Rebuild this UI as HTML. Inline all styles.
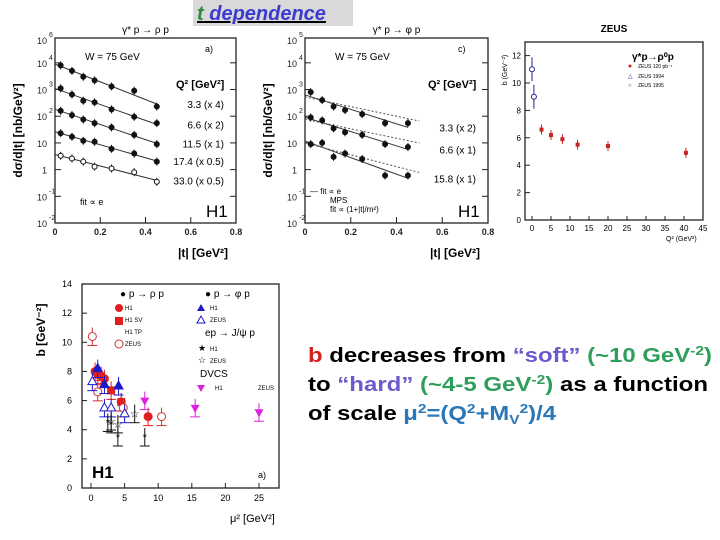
<!DOCTYPE html>
<html><head><meta charset="utf-8">
<style>
body{margin:0;background:#fff;width:720px;height:540px;overflow:hidden;font-family:"Liberation Sans",sans-serif}
svg{position:absolute;left:0;top:0}
</style></head>
<body>
<svg width="720" height="540" viewBox="0 0 720 540" font-family="Liberation Sans, sans-serif">
<g>
<rect x="193" y="0" width="160" height="26" fill="#d9d9d9"/>
<text x="197" y="20" font-size="20" font-weight="bold" font-style="italic" text-decoration="underline"><tspan fill="#2e8b3a">t</tspan><tspan fill="#3b3bd0"> dependence</tspan></text>
</g>
<g id="c1"></g>
<g id="c2"></g>
<g id="c3"></g>
<g id="c4"></g>
<g font-size="20" font-weight="bold">
<text x="308" y="362" textLength="404" lengthAdjust="spacingAndGlyphs"><tspan fill="#d42020">b</tspan> decreases from <tspan fill="#6a5acd">“soft”</tspan> <tspan fill="#2e9e5b">(~10 GeV<tspan dy="-7" font-size="13">-2</tspan><tspan dy="7">)</tspan></tspan></text>
<text x="308" y="391" textLength="400" lengthAdjust="spacingAndGlyphs">to <tspan fill="#6a5acd">“hard”</tspan> <tspan fill="#2e9e5b">(~4-5 GeV<tspan dy="-7" font-size="13">-2</tspan><tspan dy="7">)</tspan></tspan> as a function</text>
<text x="308" y="420" textLength="248" lengthAdjust="spacingAndGlyphs">of scale <tspan fill="#2a78b8">μ<tspan dy="-7" font-size="13">2</tspan><tspan dy="7">=(Q</tspan><tspan dy="-7" font-size="13">2</tspan><tspan dy="7">+M</tspan><tspan dy="4" font-size="13">V</tspan><tspan dy="-11" font-size="13">2</tspan><tspan dy="7">)/4</tspan></tspan></text>
</g>
</svg>
<script>
const NS="http://www.w3.org/2000/svg";
function mk(p,tag,a,txt){const e=document.createElementNS(NS,tag);for(const k in a)e.setAttribute(k,a[k]);if(txt!=null)e.textContent=txt;p.appendChild(e);return e;}
// ---- chart 1 data (rho) ----
const tVals=[0.025,0.075,0.125,0.175,0.25,0.35,0.45];
const rhoLabels=["3.3 (x 4)","6.6 (x 2)","11.5 (x 1)","17.4 (x 0.5)","33.0 (x 0.5)"];
const rhoS1=[8000,5000,3000,2200,1300,900,230];
const rhoS2=[1100,650,380,330,180,95,55];
const rhoS3=[160,110,75,55,38,20,9];
const rhoS4=[23,17,12,11,6,4,2];
const rhoS5=[3.3,2.6,2,1.3,1.1,0.8,0.35];
// ---- chart 2 data (phi) ----
const phiLabels=["3.3 (x 2)","6.6 (x 1)","15.8 (x 1)"];
const phiS1=[800,400,230,170,120,55,55];
const phiS2=[90,70,35,25,20,9,7];
const phiS3=[9,10,3,4,2.5,0.6,0.6];
// ---- chart 3 data (ZEUS) ----
const zQ2=[2.5,5,8,12,20,40.5];
const zB=[6.6,6.2,5.9,5.5,5.4,4.9];
const zPhQ2=[0,0.5];
const zPhB=[11,9];
// ---- chart 4 data (H1 b vs mu2) ----
const rhoH1Mu=[0.6,1,1.5,2,4.5,8.5];const rhoH1B=[8,7.8,7.7,7.5,5.9,4.9];
const rhoSvMu=[3,4.5];const rhoSvB=[6.7,5.9];
const rhoZMu=[0.2,1,4.8,10.5];const rhoZB=[10.4,6.6,5.5,4.9];
const phiH1Mu=[1,2,4.1];const phiH1B=[8.2,7.1,7];
const phiZMu=[0.2,2,3,5];const phiZB=[7.3,5.5,5.5,5.1];
const jpH1Mu=[2.5,3,4,8];const jpH1B=[4.5,4.4,3.5,3.5];
const jpZMu=[3,4,6.5];const jpZB=[4.6,4.4,5.1];
const dvH1Mu=[8,15.5,25];const dvH1B=[6,5.5,5.2];

function frame(g,x0,y0,x1,y1,name){
  const r=mk(g,"rect",{x:x0,y:y0,width:x1-x0,height:y1-y0,fill:"none",stroke:"#222","stroke-width":1.3});
  
}
function logChart(g,x0,y0,x1,y1,eTop,eBot,series,labels,title,sym,topExp){
  frame(g,x0,y0,x1,y1,'plot-frame');
  const xs=v=>x0+v/0.8*(x1-x0);
  const ys=v=>y0+(eTop-Math.log10(v))/(eTop-eBot)*(y1-y0);
  const lab=(y,e)=>{
    const t=mk(g,"text",{x:x0-8,y:y+4,"font-size":9,"text-anchor":"end",fill:"#222"},e==0?"1":"10");
    
    if(e!=0&&e!=1)mk(g,"text",{x:x0-6,y:y-3,"font-size":7,fill:"#222"},""+e);
  };
  for(let e=eBot;e<=Math.floor(eTop);e++){const y=ys(Math.pow(10,e));
    mk(g,"line",{x1:x0,x2:x0+6,y1:y,y2:y,stroke:"#222"});mk(g,"line",{x1:x1,x2:x1-6,y1:y,y2:y,stroke:"#222"});
    lab(y,e);
  }
  lab(y0+2,topExp);
  [0,0.2,0.4,0.6,0.8].forEach(v=>{const x=xs(v);mk(g,"line",{x1:x,x2:x,y1:y1,y2:y1-6,stroke:"#222"});
    const t=mk(g,"text",{x:x,y:y1+12,"font-size":9,"font-weight":"bold","text-anchor":"middle",fill:"#222"},v==0?"0":v.toFixed(1));
    });
  mk(g,"text",{x:(x0+x1)/2,y:y0-5,"font-size":10,"text-anchor":"middle"},title);
  mk(g,"text",{x:x0+30,y:y0+22,"font-size":10},"W = 75 GeV");
  mk(g,"text",{x:x1-60,y:y0+50,"font-size":11,"font-weight":"bold"},"Q² [GeV²]");
  mk(g,"text",{x:x1-30,y:y1-6,"font-size":17},"H1");
  const yl=mk(g,"text",{transform:`translate(${x0-33},${(y0+y1)/2}) rotate(-90)`,"font-size":12,"font-weight":"bold","text-anchor":"middle"},"dσ/d|t| [nb/GeV²]");
  
  const xl=mk(g,"text",{x:x1-58,y:y1+34,"font-size":12,"font-weight":"bold"},"|t| [GeV²]");
  
  series.forEach((s,i)=>{
    const n=s.length;let sx=0,sy=0,sxx=0,sxy=0;
    tVals.forEach((t,k)=>{const l=Math.log10(s[k]);sx+=t;sy+=l;sxx+=t*t;sxy+=t*l;});
    const b=(n*sxy-sx*sy)/(n*sxx-sx*sx),a=(sy-b*sx)/n;
    const ln=mk(g,"line",{x1:xs(0.0),y1:ys(Math.pow(10,a)),x2:xs(0.45),y2:ys(Math.pow(10,a+b*0.45)),stroke:"#333","stroke-width":1});
    
    if(sym)mk(g,"line",{x1:xs(0.0),y1:ys(Math.pow(10,a))+2,x2:xs(0.5),y2:ys(Math.pow(10,a+b*0.5))-10,stroke:"#555","stroke-dasharray":"2,2"});
    tVals.forEach((t,k)=>{
      const y=ys(s[k]);
      mk(g,"line",{x1:xs(t),x2:xs(t),y1:y-4,y2:y+4,stroke:"#111"});
      const c=mk(g,"circle",{cx:xs(t),cy:y,r:2.5,fill:i==4?"#fff":"#111",stroke:"#111"});
      
    });
    const lb=mk(g,"text",{x:x1-12,y:ys(Math.pow(10,a+b*0.45))+4,"font-size":10,"text-anchor":"end"},labels[i]);
    
  });
}
logChart(document.getElementById("c1"),55,38,236,223,4.93,-2,[rhoS1,rhoS2,rhoS3,rhoS4,rhoS5],rhoLabels,"γ* p → ρ p",false,6);
mk(document.getElementById("c1"),"text",{x:80,y:205,"font-size":9},"fit ∝ e");
mk(document.getElementById("c1"),"text",{x:205,y:52,"font-size":9},"a)");
logChart(document.getElementById("c2"),305,38,488,223,4.93,-2,[phiS1,phiS2,phiS3],phiLabels,"γ* p → φ p",true,5);
mk(document.getElementById("c2"),"text",{x:310,y:194,"font-size":8},"— fit ∝ e");
mk(document.getElementById("c2"),"text",{x:330,y:203,"font-size":8},"MPS");
mk(document.getElementById("c2"),"text",{x:330,y:212,"font-size":8},"fit ∝ (1+|t|/m²)");
mk(document.getElementById("c2"),"text",{x:458,y:52,"font-size":9},"c)");

// ZEUS chart
(function(){const g=document.getElementById("c3");const x0=525,y0=42,x1=703,y1=220;
 frame(g,x0,y0,x1,y1,'plot-frame');
 const xs=v=>532+v*3.8,ys=v=>y1-v*13.7;
 for(let v=0;v<=12;v+=2){mk(g,"line",{x1:x0,x2:x0+5,y1:ys(v),y2:ys(v),stroke:"#222"});mk(g,"text",{x:x0-4,y:ys(v)+3,"font-size":8,"text-anchor":"end"},v);}
 for(let v=0;v<=45;v+=5){mk(g,"line",{x1:xs(v),x2:xs(v),y1:y1,y2:y1-4,stroke:"#222"});mk(g,"text",{x:xs(v),y:y1+11,"font-size":8,"text-anchor":"middle"},v);}
 mk(g,"text",{x:614,y:32,"font-size":10,"font-weight":"bold","text-anchor":"middle"},"ZEUS");
 mk(g,"text",{transform:`translate(${x0-18},70) rotate(-90)`,"font-size":7,"text-anchor":"middle"},"b (GeV⁻²)");
 mk(g,"text",{x:666,y:241,"font-size":7},"Q² (GeV²)");
 mk(g,"text",{x:632,y:60,"font-size":10,"font-weight":"bold"},"γ*p→ρ⁰p");
 mk(g,"circle",{cx:630,cy:66,r:1.5,fill:"#c22"});mk(g,"text",{x:638,y:68,"font-size":5},"ZEUS 120 pb⁻¹");
 mk(g,"text",{x:628,y:78,"font-size":6,fill:"#229"},"△");mk(g,"text",{x:638,y:78,"font-size":5},"ZEUS 1994");
 mk(g,"text",{x:628,y:87,"font-size":6,fill:"#229"},"○");mk(g,"text",{x:638,y:87,"font-size":5},"ZEUS 1995");
 zQ2.forEach((q,k)=>{mk(g,"line",{x1:xs(q),x2:xs(q),y1:ys(zB[k])-5,y2:ys(zB[k])+5,stroke:"#c22"});
  const c=mk(g,"rect",{x:xs(q)-2,y:ys(zB[k])-2,width:4,height:4,fill:"#c22"});});
 zPhQ2.forEach((q,k)=>{mk(g,"line",{x1:xs(q),x2:xs(q),y1:ys(zPhB[k])-12,y2:ys(zPhB[k])+12,stroke:"#229"});
  const c=mk(g,"circle",{cx:xs(q),cy:ys(zPhB[k]),r:2.5,fill:"#fff",stroke:"#229"});});
})();

// bottom chart
(function(){const g=document.getElementById("c4");const x0=82,y0=284,x1=279,y1=488;
 frame(g,x0,y0,x1,y1,'plot-frame');
 const xs=v=>91+v*6.72,ys=v=>y1-v*14.57;
 for(let v=0;v<=14;v+=2){mk(g,"line",{x1:x0,x2:x0+5,y1:ys(v),y2:ys(v),stroke:"#222"});mk(g,"text",{x:x0-10,y:ys(v)+3,"font-size":9,"text-anchor":"end"},v);}
 for(let v=0;v<=25;v+=5){mk(g,"line",{x1:xs(v),x2:xs(v),y1:y1,y2:y1-5,stroke:"#222"});mk(g,"text",{x:xs(v),y:y1+13,"font-size":9,"text-anchor":"middle"},v);}
 mk(g,"text",{transform:`translate(45,330) rotate(-90)`,"font-size":12,"font-weight":"bold","text-anchor":"middle"},"b [GeV⁻²]");
 mk(g,"text",{x:230,y:522,"font-size":11},"μ² [GeV²]");
 mk(g,"text",{x:92,y:478,"font-size":17,"font-weight":"bold"},"H1");
 mk(g,"text",{x:258,y:478,"font-size":9},"a)");
 const leg=[[120,297,"● p → ρ p",10],[205,297,"● p → φ p",10],[125,310,"H1",6],[125,322,"H1 SV",6],[125,334,"H1 TP",6],[125,346,"ZEUS",6],[210,310,"H1",6],[210,322,"ZEUS",6],[205,336,"ep → J/ψ p",10],[210,351,"H1",6],[210,363,"ZEUS",6],[200,377,"DVCS",10],[215,390,"H1",6],[258,390,"ZEUS",6]];
 leg.forEach(l=>mk(g,"text",{x:l[0],y:l[1],"font-size":l[3]},l[2]));
 const sets=[[rhoH1Mu,rhoH1B,"#e02020","c",true],[rhoSvMu,rhoSvB,"#e02020","s",true],[rhoZMu,rhoZB,"#c33","c",false],[phiH1Mu,phiH1B,"#1a1acc","t",true],[phiZMu,phiZB,"#1a1acc","t",false],[jpH1Mu,jpH1B,"#111","*",true],[jpZMu,jpZB,"#111","☆",false],[dvH1Mu,dvH1B,"#dd22dd","v",true]];
 sets.forEach(s=>{s[0].forEach((m,k)=>{const x=xs(m),y=ys(s[1][k]);
  mk(g,"line",{x1:x,x2:x,y1:y-9,y2:y+9,stroke:s[2]});mk(g,"line",{x1:x-5,x2:x+5,y1:y+9,y2:y+9,stroke:s[2]});
  let e;
  if(s[3]=="c")e=mk(g,"circle",{cx:x,cy:y,r:4,fill:s[4]?s[2]:"#fff",stroke:s[2]});
  else if(s[3]=="s")e=mk(g,"rect",{x:x-4,y:y-4,width:8,height:8,fill:s[2]});
  else if(s[3]=="t")e=mk(g,"polygon",{points:`${x},${y-5} ${x-4.5},${y+3} ${x+4.5},${y+3}`,fill:s[4]?s[2]:"#fff",stroke:s[2]});
  else if(s[3]=="v")e=mk(g,"polygon",{points:`${x},${y+5} ${x-4.5},${y-3} ${x+4.5},${y-3}`,fill:s[2]});
  else e=mk(g,"text",{x:x,y:y+4,"font-size":11,"text-anchor":"middle",fill:s[2]},s[3]);
  });});
 mk(g,"circle",{cx:119,cy:308,r:4,fill:"#e02020"});mk(g,"rect",{x:115,y:317,width:8,height:8,fill:"#e02020"});
 mk(g,"circle",{cx:119,cy:344,r:4,fill:"#fff",stroke:"#c33"});
 mk(g,"polygon",{points:"201,304 197,311 205,311",fill:"#1a1acc"});mk(g,"polygon",{points:"201,316 197,323 205,323",fill:"#fff",stroke:"#1a1acc"});
 mk(g,"text",{x:198,y:351,"font-size":9},"★");mk(g,"text",{x:198,y:363,"font-size":9},"☆");
 mk(g,"polygon",{points:"201,392 197,385 205,385",fill:"#dd22dd"});
})();
</script>
</body></html>
